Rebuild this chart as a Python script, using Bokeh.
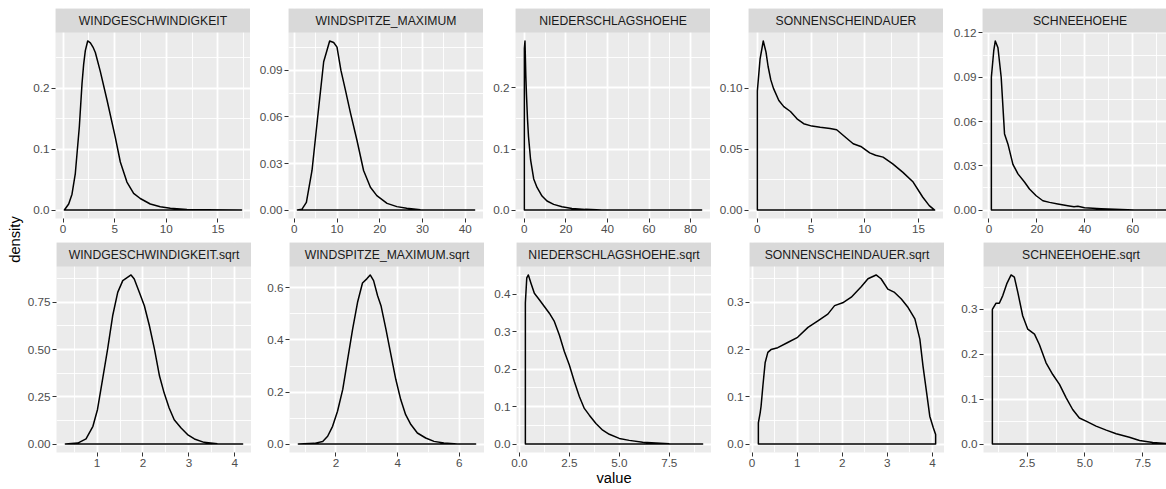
import math
from bokeh.plotting import figure
from bokeh.layouts import row, column
from bokeh.models import FixedTicker, PrintfTickFormatter, BoxAnnotation, Label, Range1d
from bokeh.embed import file_html
from bokeh.resources import INLINE

# ---------------- data ----------------
names = ["WINDGESCHWINDIGKEIT", "WINDSPITZE_MAXIMUM", "NIEDERSCHLAGSHOEHE",
         "SONNENSCHEINDAUER", "SCHNEEHOEHE",
         "WINDGESCHWINDIGKEIT.sqrt", "WINDSPITZE_MAXIMUM.sqrt", "NIEDERSCHLAGSHOEHE.sqrt",
         "SONNENSCHEINDAUER.sqrt", "SCHNEEHOEHE.sqrt"]

wind_x = [0.13, 0.55, 0.87, 1.19, 1.58, 1.84, 2.0, 2.16, 2.39, 2.65, 2.9, 3.13, 3.61, 4.26, 5.06,
          5.55, 6.19, 6.84, 7.48, 8.45, 9.42, 10.39, 12.0, 13.9, 17.3]
wind_d = [0.0, 0.0099, 0.026, 0.060, 0.137, 0.208, 0.240, 0.262, 0.278, 0.275, 0.268, 0.259,
          0.228, 0.181, 0.120, 0.079, 0.046, 0.0275, 0.019, 0.0099, 0.0055, 0.0028, 0.0011,
          0.0003, 0.0]

gust_x = [0.7, 1.79, 2.81, 4.13, 5.46, 6.86, 7.64, 8.26, 9.2, 9.98, 10.9, 11.9, 13.1, 14.65,
          16.2, 17.8, 19.3, 21.7, 24.0, 26.3, 29.5, 42.2]
gust_d = [0.0, 0.0006, 0.005, 0.0255, 0.060, 0.0956, 0.103, 0.109, 0.108, 0.105, 0.090, 0.078,
          0.063, 0.045, 0.0255, 0.0147, 0.0093, 0.0043, 0.0022, 0.0011, 0.0002, 0.0]

rain_x = [0.0, 0.3, 0.7, 1.0, 1.5, 2.0, 3.0, 4.5, 6.1, 8.5, 10.9, 14.1, 18.1, 22.9, 29.3, 37.3, 85.3]
rain_d = [0.265, 0.277, 0.22, 0.19, 0.15, 0.12, 0.082, 0.051, 0.037, 0.023, 0.0148, 0.0093,
          0.0055, 0.0027, 0.0011, 0.0, 0.0]

sun_x = [0.0, 0.25, 0.55, 0.8, 1.0, 1.25, 1.5, 2.0, 2.46, 3.08, 3.69, 4.31, 5.08, 5.85, 6.77,
         7.38, 8.31, 8.92, 9.69, 10.46, 11.0, 11.7, 12.6, 13.55, 14.5, 15.4, 16.0, 16.5]
sun_d = [0.098, 0.124, 0.139, 0.130, 0.118, 0.107, 0.100, 0.090, 0.085, 0.081, 0.075, 0.071,
         0.069, 0.068, 0.067, 0.066, 0.059, 0.0545, 0.052, 0.047, 0.045, 0.0435, 0.038, 0.031,
         0.023, 0.0105, 0.0036, 0.0]

snow_x = [1.0, 2.0, 2.64, 3.75, 5.1, 6.5, 7.9, 10.0, 12.1, 14.9, 16.9, 19.7, 22.5, 25.3, 28.75,
          32.9, 35.5, 37.1, 39.9, 46.8, 52.4, 60.7, 75.0]
snow_d = [0.09, 0.108, 0.1146, 0.110, 0.090, 0.0516, 0.0448, 0.031, 0.0245, 0.0188, 0.0143,
          0.0097, 0.0063, 0.0052, 0.0041, 0.0029, 0.0022, 0.0026, 0.0016, 0.0009, 0.0005,
          0.0001, 0.0]

wind_sqrt_x = [0.31, 0.58, 0.76, 0.91, 1.01, 1.12, 1.23, 1.34, 1.45, 1.56, 1.67, 1.74, 1.81,
               1.92, 2.03, 2.14, 2.25, 2.36, 2.46, 2.57, 2.68, 2.83, 2.97, 3.12, 3.33, 3.62, 4.17]
wind_sqrt_d = [0.0, 0.005, 0.027, 0.094, 0.183, 0.342, 0.502, 0.679, 0.803, 0.865, 0.883, 0.895,
               0.874, 0.803, 0.732, 0.626, 0.502, 0.36, 0.271, 0.191, 0.129, 0.085, 0.050,
               0.027, 0.0089, 0.002, 0.0]

gust_sqrt_x = [0.78, 1.30, 1.57, 1.73, 1.89, 2.05, 2.22, 2.38, 2.54, 2.70, 2.86, 3.0, 3.11, 3.22,
               3.35, 3.46, 3.62, 3.78, 3.94, 4.10, 4.26, 4.43, 4.64, 4.91, 5.18, 5.50, 5.94, 6.53]
gust_sqrt_d = [0.0, 0.0026, 0.010, 0.030, 0.068, 0.126, 0.210, 0.326, 0.442, 0.545, 0.619, 0.635,
               0.650, 0.628, 0.570, 0.532, 0.442, 0.345, 0.249, 0.171, 0.113, 0.075, 0.0425,
               0.0232, 0.0103, 0.0039, 0.0005, 0.0]

rain_sqrt_x = [0.3, 0.37, 0.45, 0.58, 0.75, 1.0, 1.25, 1.5, 1.75, 2.0, 2.25, 2.5, 2.75, 3.0, 3.25,
               3.5, 3.83, 4.17, 4.5, 5.0, 5.5, 6.17, 6.83, 7.5, 9.17]
rain_sqrt_d = [0.376, 0.443, 0.451, 0.429, 0.402, 0.385, 0.367, 0.349, 0.327, 0.291, 0.247, 0.211,
               0.167, 0.127, 0.095, 0.077, 0.055, 0.037, 0.026, 0.015, 0.0098, 0.0045, 0.0027,
               0.0009, 0.0]

sun_sqrt_x = [0.14, 0.18, 0.2, 0.24, 0.29, 0.35, 0.42, 0.57, 0.79, 1.01, 1.24, 1.46, 1.68, 1.83,
              2.01, 2.2, 2.42, 2.57, 2.75, 2.86, 3.01, 3.16, 3.31, 3.46, 3.61, 3.72, 3.79, 3.87,
              3.94, 4.02, 4.07]
sun_sqrt_d = [0.045, 0.066, 0.08, 0.123, 0.172, 0.194, 0.2, 0.204, 0.215, 0.226, 0.247, 0.261,
              0.275, 0.293, 0.299, 0.311, 0.333, 0.35, 0.358, 0.35, 0.328, 0.321, 0.307, 0.289,
              0.265, 0.222, 0.165, 0.109, 0.059, 0.034, 0.02]

snow_sqrt_x = [1.0, 1.16, 1.30, 1.45, 1.62, 1.81, 1.95, 2.1, 2.31, 2.53, 2.82, 3.03, 3.32, 3.61,
               3.90, 4.19, 4.47, 4.76, 5.05, 5.48, 5.92, 6.35, 6.92, 7.36, 7.93, 8.62, 8.66]
snow_sqrt_d = [0.30, 0.314, 0.314, 0.331, 0.357, 0.377, 0.372, 0.338, 0.286, 0.256, 0.245, 0.222,
               0.181, 0.155, 0.133, 0.103, 0.077, 0.058, 0.051, 0.040, 0.031, 0.023, 0.015,
               0.008, 0.0037, 0.001, 0.0]

xs_all = [wind_x, gust_x, rain_x, sun_x, snow_x,
          wind_sqrt_x, gust_sqrt_x, rain_sqrt_x, sun_sqrt_x, snow_sqrt_x]
ds_all = [wind_d, gust_d, rain_d, sun_d, snow_d,
          wind_sqrt_d, gust_sqrt_d, rain_sqrt_d, sun_sqrt_d, snow_sqrt_d]

x_ticks = [[0, 5, 10, 15], [0, 10, 20, 30, 40], [0, 20, 40, 60, 80], [0, 5, 10, 15],
           [0, 20, 40, 60, 80],
           [1, 2, 3, 4], [2, 4, 6], [0, 2.5, 5, 7.5], [0, 1, 2, 3, 4], [2.5, 5, 7.5]]
x_fmt = ["%d", "%d", "%d", "%d", "%d", "%d", "%d", "%.1f", "%d", "%.1f"]
y_ticks = [[0, 0.1, 0.2], [0, 0.03, 0.06, 0.09], [0, 0.1, 0.2], [0, 0.05, 0.10],
           [0, 0.03, 0.06, 0.09, 0.12],
           [0, 0.25, 0.5, 0.75], [0, 0.2, 0.4, 0.6], [0, 0.1, 0.2, 0.3, 0.4],
           [0, 0.1, 0.2, 0.3], [0, 0.1, 0.2, 0.3]]
y_fmt = ["%.1f", "%.2f", "%.1f", "%.2f", "%.2f", "%.2f", "%.1f", "%.1f", "%.1f", "%.1f"]

# ---------------- style / layout ----------------
FONT = "Liberation Sans"
PANEL_W = 195
PANEL_H = 186
STRIP_H = 24
DENS_W = 24
LEFT_BORDER = [31, 38, 32, 38, 39]
LAST_W = 184  # last column is cut by the image edge


def minors(ticks, lo, hi):
    step = ticks[1] - ticks[0]
    cand = [ticks[0] - step / 2] + [t + step / 2 for t in ticks]
    return [m for m in cand if lo <= m <= hi]


def make_panel(i):
    r, c = divmod(i, 5)
    xd, dd = xs_all[i], ds_all[i]
    xmin, xmax = min(xd), max(xd)
    span = xmax - xmin
    x0, x1_full = xmin - 0.05 * span, xmax + 0.05 * span
    fw = PANEL_W if c < 4 else LAST_W
    x1 = x0 + (x1_full - x0) * fw / PANEL_W
    dmax = max(dd)
    y0, y1 = -0.05 * dmax, 1.05 * dmax
    ytop = y1 + (y1 - y0) * STRIP_H / PANEL_H

    p = figure(title=None, frame_width=fw, frame_height=PANEL_H + STRIP_H,
               x_range=Range1d(x0, x1), y_range=Range1d(y0, ytop),
               toolbar_location=None, output_backend="svg",
               min_border_left=LEFT_BORDER[c], min_border_right=0,
               min_border_top=8 if r == 0 else 0,
               min_border_bottom=24 if r == 0 else 37)
    p.background_fill_color = "#EBEBEB"
    p.border_fill_color = "white"
    p.outline_line_color = None

    xt = FixedTicker(ticks=x_ticks[i], minor_ticks=minors(x_ticks[i], x0, x1))
    yt = FixedTicker(ticks=y_ticks[i], minor_ticks=minors(y_ticks[i], y0, y1))
    p.xaxis.ticker = xt
    p.xgrid.ticker = xt
    p.yaxis.ticker = yt
    p.ygrid.ticker = yt
    p.xaxis.formatter = PrintfTickFormatter(format=x_fmt[i])
    p.yaxis.formatter = PrintfTickFormatter(format=y_fmt[i])
    for g in (p.xgrid, p.ygrid):
        g.grid_line_color = "white"
        g.grid_line_width = 1.8
        g.minor_grid_line_color = "white"
        g.minor_grid_line_width = 0.9
    for ax in (p.xaxis, p.yaxis):
        ax.axis_line_color = None
        ax.major_tick_line_color = "#333333"
        ax.major_tick_line_width = 1
        ax.major_tick_out = 4
        ax.major_tick_in = 0
        ax.minor_tick_line_color = None
        ax.major_label_text_font = FONT
        ax.major_label_text_font_size = "11.7px"
        ax.major_label_text_color = "#4D4D4D"
        ax.major_label_standoff = 2

    # density polygon (ggplot full outline: curve + baseline)
    px = [xd[0]] + list(xd) + [xd[-1]]
    py = [0.0] + list(dd) + [0.0]
    p.patch(px, py, fill_color=None, line_color="black", line_width=1.5,
            line_join="round")

    # facet strip
    p.add_layout(BoxAnnotation(bottom=y1, fill_color="#D9D9D9", fill_alpha=1.0,
                               line_color=None))
    p.add_layout(Label(x=(x0 + x1_full) / 2, y=(y1 + ytop) / 2, text=names[i],
                       text_align="center", text_baseline="middle",
                       text_font=FONT, text_font_size="12.2px", text_color="#1A1A1A"))

    if i == 7:
        p.xaxis.axis_label = "value"
        p.xaxis.axis_label_standoff = 0
        p.xaxis.axis_label_text_font = FONT
        p.xaxis.axis_label_text_font_size = "14.7px"
        p.xaxis.axis_label_text_font_style = "normal"
        p.xaxis.axis_label_text_color = "black"
    return p


panels = [make_panel(i) for i in range(10)]

dens = figure(title=None, width=DENS_W, height=489, x_range=(0, DENS_W), y_range=(0, 489),
              toolbar_location=None, output_backend="svg", x_axis_type=None, y_axis_type=None,
              min_border_left=0, min_border_right=0, min_border_top=0, min_border_bottom=0)
dens.outline_line_color = None
dens.grid.visible = False
dens.background_fill_color = "white"
dens.add_layout(Label(x=14, y=489 - 239, text="density", angle=math.pi / 2,
                      text_align="center", text_baseline="middle",
                      text_font=FONT, text_font_size="14.7px", text_color="black"))

layout = row(dens, column(row(*panels[:5], spacing=0), row(*panels[5:], spacing=0), spacing=0),
             spacing=0)

open("out.html", "w").write(file_html(layout, INLINE))
